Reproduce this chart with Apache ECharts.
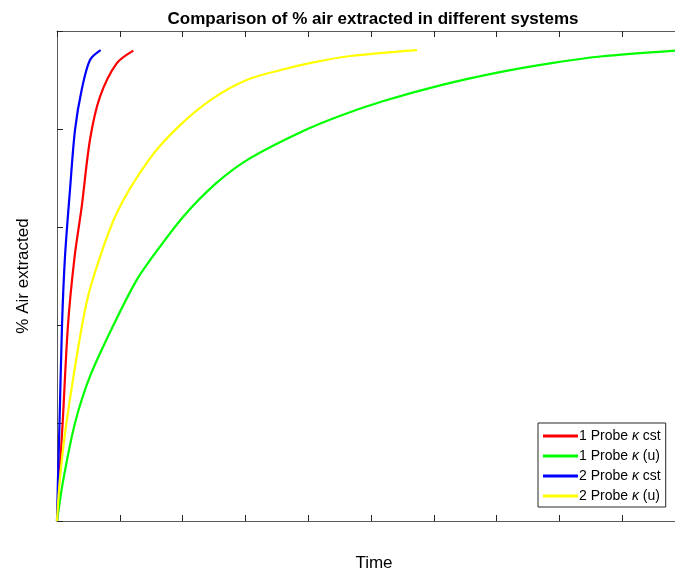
<!DOCTYPE html>
<html>
<head>
<meta charset="utf-8">
<script src="https://cdn.jsdelivr.net/npm/echarts@6/dist/echarts.min.js"></script>
<style>html,body{margin:0;padding:0;background:#fff;}#c{width:675px;height:572px;}</style>
</head>
<body>
<div id="c"></div>
<script>
var seriesNames = ['1 Probe κ cst', '1 Probe κ (u)', '2 Probe κ cst', '2 Probe κ (u)'];
var seriesColors = ['#ff0000', '#00ff00', '#0000ff', '#ffff00'];

var red1X = [0, 0.035, 0.09, 0.175, 0.28, 0.393, 0.525, 0.685, 0.95, 1.215];
var red1Y = [0, 8.4, 20, 40, 53.9, 64.1, 77.8, 86.6, 93.4, 96.0];

var green1X = [0, 0.1, 0.287, 0.525, 0.9, 1.26, 1.48, 2.01, 2.54, 3.07, 3.87, 4.51, 5.2, 6.1, 7.05, 7.85, 8.65, 9.84];
var green1Y = [0, 8.4, 20, 29.5, 40, 49.0, 53.2, 62.1, 69.0, 74.0, 79.3, 82.7, 85.7, 88.9, 91.6, 93.4, 94.8, 96.0];

var blue2X = [0, 0.015, 0.04, 0.08, 0.127, 0.207, 0.287, 0.393, 0.525, 0.695];
var blue2Y = [0, 8.4, 20, 40, 53.9, 67.6, 79.8, 88.0, 94.1, 96.1];

var yellow2X = [0, 0.045, 0.15, 0.40, 0.55, 0.95, 1.48, 1.96, 2.49, 3.02, 3.55, 4.08, 4.67, 5.73];
var yellow2Y = [0, 8.4, 20, 40, 48.5, 62.8, 74.0, 80.8, 86.3, 90.0, 92.0, 93.6, 94.9, 96.1];

var xTicks = {min: 0, max: 9.84, interval: 1};
var yTicks = {min: 0, max: 100, interval: 20};

function pairs(xs, ys) { return xs.map(function (x, i) { return [x, ys[i]]; }); }
var allX = [red1X, green1X, blue2X, yellow2X];
var allY = [red1Y, green1Y, blue2Y, yellow2Y];

var FONT = 'Liberation Sans';
var axisCol = '#262626';
function axisBase(extra) {
  var a = {
    type: 'value',
    axisLine: {show: true, onZero: false, lineStyle: {color: '#5a5a5a', width: 1}},
    axisTick: {show: true, inside: true, length: 6, lineStyle: {color: axisCol, width: 1}},
    axisLabel: {show: false},
    splitLine: {show: false}
  };
  for (var k in extra) a[k] = extra[k];
  return a;
}

var chart = echarts.init(document.getElementById('c'), null, {renderer: 'canvas'});
chart.setOption({
  animation: false,
  backgroundColor: '#ffffff',
  grid: {left: 57, top: 31, right: 0, height: 490, containLabel: false},
  xAxis: [
    axisBase({position: 'bottom', min: xTicks.min, max: xTicks.max, interval: xTicks.interval}),
    axisBase({position: 'top', min: xTicks.min, max: xTicks.max, interval: xTicks.interval})
  ],
  yAxis: [
    axisBase({position: 'left', min: yTicks.min, max: yTicks.max, interval: yTicks.interval})
  ],
  graphic: [{
    type: 'text', x: 373, y: 19,
    style: {text: 'Comparison of % air extracted in different systems', font: 'bold 17px "Liberation Sans"',
      fill: '#000', textAlign: 'center', textVerticalAlign: 'middle'}
  }, {
    type: 'text', x: 374, y: 563,
    style: {text: 'Time', font: '17px "Liberation Sans"', fill: '#000', textAlign: 'center', textVerticalAlign: 'middle'}
  }, {
    type: 'text', x: 23, y: 276, rotation: Math.PI / 2,
    style: {text: '% Air extracted', font: '17px "Liberation Sans"', fill: '#000', textAlign: 'center', textVerticalAlign: 'middle'}
  }],
  legend: {
    orient: 'vertical', left: 538, top: 423,
    backgroundColor: '#ffffff', borderColor: axisCol, borderWidth: 1,
    padding: [6, 5, 4, 5], itemGap: 6, itemWidth: 35, itemHeight: 3, icon: 'rect',
    data: seriesNames,
    formatter: function (n) { return n.replace('κ', '{k|κ}'); },
    textStyle: {fontFamily: FONT, fontSize: 14, color: '#000', lineHeight: 14, padding: [0, 0, 0, -4],
      rich: {k: {fontFamily: FONT, fontSize: 14, fontStyle: 'italic', color: '#000'}}}
  },
  series: seriesNames.map(function (n, i) {
    return {
      name: n, type: 'line', xAxisIndex: 0, yAxisIndex: 0,
      data: pairs(allX[i], allY[i]),
      showSymbol: false, symbol: 'none',
      smooth: 0.3,
      lineStyle: {color: seriesColors[i], width: 2.2},
      itemStyle: {color: seriesColors[i]}
    };
  })
});
</script>
</body>
</html>
